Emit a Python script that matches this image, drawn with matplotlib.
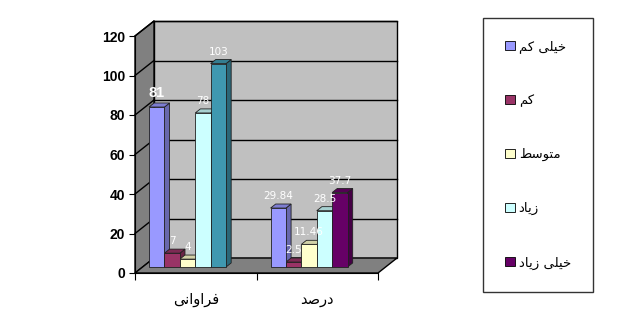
import matplotlib
matplotlib.use('Agg')
import numpy as np
import matplotlib.pyplot as plt
from matplotlib.patches import Polygon, Patch
from matplotlib.colors import to_rgb

categories = ['فراوانی', 'درصد']
series = ['خیلی کم', 'کم', 'متوسط', 'زیاد', 'خیلی زیاد']
freq = [81, 7, 4, 78, 103]
percent = [29.84, 2.5, 11.46, 28.5, 37.7]
yticks = [0, 20, 40, 60, 80, 100, 120]

colors = ['#9999ff', '#993366', '#ffffcc', '#ccffff', '#660066']
# last bar of the first group is teal in the original
freq_colors = ['#9999ff', '#993366', '#ffffcc', '#ccffff', '#3f98b0']


# minimal Persian shaping (matplotlib does no joining / bidi)
FORMS = {
    'ا': ('\ufe8d', '\ufe8e'), 'د': ('\ufea9', '\ufeaa'),
    'ر': ('\ufead', '\ufeae'), 'ز': ('\ufeaf', '\ufeb0'),
    'و': ('\ufeed', '\ufeee'),
    'ت': ('\ufe95', '\ufe96', '\ufe97', '\ufe98'),
    'خ': ('\ufea5', '\ufea6', '\ufea7', '\ufea8'),
    'س': ('\ufeb1', '\ufeb2', '\ufeb3', '\ufeb4'),
    'ص': ('\ufeb9', '\ufeba', '\ufebb', '\ufebc'),
    'ط': ('\ufec1', '\ufec2', '\ufec3', '\ufec4'),
    'ف': ('\ufed1', '\ufed2', '\ufed3', '\ufed4'),
    'ک': ('\ufed9', '\ufeda', '\ufedb', '\ufedc'),
    'ل': ('\ufedd', '\ufede', '\ufedf', '\ufee0'),
    'م': ('\ufee1', '\ufee2', '\ufee3', '\ufee4'),
    'ن': ('\ufee5', '\ufee6', '\ufee7', '\ufee8'),
    'ی': ('\ufeef', '\ufef0', '\ufef3', '\ufef4'),
}


def fa(s):
    out = []
    for i, c in enumerate(s):
        if c not in FORMS:
            out.append(c)
            continue
        prev = s[i - 1] if i > 0 else ''
        nxt = s[i + 1] if i + 1 < len(s) else ''
        jp = prev in FORMS and len(FORMS[prev]) == 4
        jn = len(FORMS[c]) == 4 and nxt in FORMS
        f = FORMS[c]
        if jp and jn:
            out.append(f[3])
        elif jn:
            out.append(f[2])
        elif jp:
            out.append(f[1])
        else:
            out.append(f[0])
    return ''.join(out[::-1])


def shade(c, k):
    r, g, b = to_rgb(c)
    return (r * k, g * k, b * k)


W, H = 626, 315
fig = plt.figure(figsize=(W / 100, H / 100), dpi=100)
# axes = front plane of the 3D box
ax = fig.add_axes([135 / W, (H - 273) / H, 243 / W, 237 / H])
ax.set_xlim(0, 2)
ax.set_ylim(0, 120)
ax.patch.set_visible(False)

ux = 2 / 243.0
uy = 120 / 237.0
DX, DY = 19 * ux, 15 * uy

# walls and floor
back = Polygon([(DX, DY), (2 + DX, DY), (2 + DX, 120 + DY), (DX, 120 + DY)],
               closed=True, fc='#c0c0c0', ec='black', lw=1, clip_on=False, zorder=0)
left = Polygon([(0, 0), (DX, DY), (DX, 120 + DY), (0, 120)],
               closed=True, fc='#808080', ec='black', lw=1, clip_on=False, zorder=0)
floor = Polygon([(0, 0), (2, 0), (2 + DX, DY), (DX, DY)],
                closed=True, fc='#808080', ec='black', lw=1, clip_on=False, zorder=0)
for p in (back, left, floor):
    ax.add_patch(p)
for v in yticks[1:]:
    ax.plot([DX, 2 + DX], [v + DY, v + DY], color='black', lw=1, clip_on=False, zorder=0.5)
    ax.plot([0, DX], [v, v + DY], color='black', lw=1, clip_on=False, zorder=0.5)

# bars
f0 = 0.4      # depth position of bar front face
t = 0.27      # bar depth
w = 15.4 * ux
centers = [0.37, 1.37]
ox, oy = f0 * DX, f0 * DY
sx, sy = t * DX, t * DY

groups = [(freq, freq_colors), (percent, colors)]
for g, (vals, cols) in enumerate(groups):
    xs = centers[g] + (np.arange(5) - 2) * w + ox
    ax.bar(xs, vals, width=w, bottom=oy, color=cols, edgecolor='#202020',
           lw=0.6, zorder=3, clip_on=False)
    for x, v, c in zip(xs, vals, cols):
        x0, x1 = x - w / 2, x + w / 2
        top = v + oy
        ax.add_patch(Polygon([(x1, oy), (x1 + sx, oy + sy), (x1 + sx, top + sy), (x1, top)],
                             closed=True, fc=shade(c, 0.68), ec='#202020', lw=0.6,
                             zorder=2, clip_on=False))
        ax.add_patch(Polygon([(x0, top), (x1, top), (x1 + sx, top + sy), (x0 + sx, top + sy)],
                             closed=True, fc=shade(c, 0.82), ec='#202020', lw=0.6,
                             zorder=2, clip_on=False))
        lbl = '%g' % v
        if g == 0 and v == 81:
            ax.annotate(lbl, (x, top), xytext=(0, 5), textcoords='offset points',
                        ha='center', va='bottom', color='white', fontsize=10.5,
                        fontweight='bold', family='Liberation Sans', zorder=5)
        else:
            ax.annotate(lbl, (x, top), xytext=(0, 5), textcoords='offset points',
                        ha='center', va='bottom', color='white', fontsize=7.5,
                        family='DejaVu Sans', zorder=5)

# axes styling
for s in ('top', 'right'):
    ax.spines[s].set_visible(False)
ax.spines['left'].set_zorder(1)
ax.spines['bottom'].set_zorder(1)
ax.set_yticks(yticks)
ax.set_yticklabels([str(v) for v in yticks], fontsize=10, fontweight='bold',
                   family='Liberation Sans')
ax.tick_params(axis='y', direction='out', length=4, pad=3)
ax.set_xticks([0, 1, 2])
ax.set_xticklabels([])
ax.tick_params(axis='x', which='major', direction='out', length=5)
ax.set_xticks([0.5, 1.5], minor=True)
ax.set_xticklabels([fa(c) for c in categories], minor=True, fontsize=10.5,
                   family='DejaVu Sans')
ax.tick_params(axis='x', which='minor', length=0, pad=14)

# legend
handles = [Patch(facecolor=c, edgecolor='black', lw=0.6) for c in colors]
leg = fig.legend(handles, [fa(s) for s in series], loc='upper left',
                 bbox_to_anchor=(483 / W, 1 - 18 / H), frameon=True, fancybox=False,
                 prop={'family': 'DejaVu Sans', 'size': 9.5}, handlelength=0.7,
                 handleheight=0.7, handletextpad=0.3, labelspacing=3.1,
                 borderpad=1.7, borderaxespad=0)
leg.get_frame().set_edgecolor('black')
leg.get_frame().set_linewidth(1)

fig.savefig('out.png', dpi=100)
